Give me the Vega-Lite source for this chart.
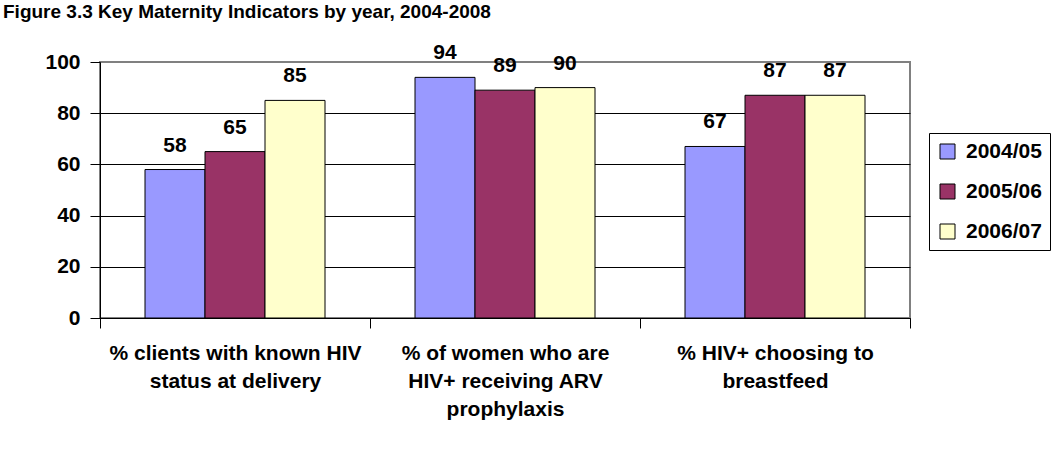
{
  "$schema": "https://vega.github.io/schema/vega-lite/v6.json",
  "width": 810,
  "height": 256,
  "autosize": {"type": "none"},
  "padding": {"left": 100, "top": 62, "right": 144, "bottom": 149},
  "background": "white",
  "title": {
    "text": "Figure 3.3 Key Maternity Indicators by year, 2004-2008",
    "anchor": "start",
    "frame": "group",
    "font": "Liberation Sans",
    "fontSize": 19,
    "fontWeight": "bold",
    "color": "black",
    "baseline": "alphabetic",
    "offset": -30,
    "dx": -97,
    "dy": -35
  },
  "data": {
    "values": [
      {"indicator": "% clients with known HIV|status at delivery", "year": "2004/05", "value": 58},
      {"indicator": "% clients with known HIV|status at delivery", "year": "2005/06", "value": 65},
      {"indicator": "% clients with known HIV|status at delivery", "year": "2006/07", "value": 85},
      {"indicator": "% of women who are|HIV+ receiving ARV|prophylaxis", "year": "2004/05", "value": 94},
      {"indicator": "% of women who are|HIV+ receiving ARV|prophylaxis", "year": "2005/06", "value": 89},
      {"indicator": "% of women who are|HIV+ receiving ARV|prophylaxis", "year": "2006/07", "value": 90},
      {"indicator": "% HIV+ choosing to|breastfeed", "year": "2004/05", "value": 67},
      {"indicator": "% HIV+ choosing to|breastfeed", "year": "2005/06", "value": 87},
      {"indicator": "% HIV+ choosing to|breastfeed", "year": "2006/07", "value": 87}
    ]
  },
  "encoding": {
    "x": {
      "field": "indicator",
      "type": "nominal",
      "sort": null,
      "scale": {"paddingInner": 0, "paddingOuter": 0},
      "axis": {
        "title": null,
        "labelAngle": 0,
        "labelExpr": "split(datum.label, '|')",
        "labelFont": "Liberation Sans",
        "labelFontSize": 21,
        "labelFontWeight": "bold",
        "labelColor": "black",
        "labelLineHeight": 28,
        "labelBaseline": "top",
        "labelPadding": 14,
        "labelLimit": 0,
        "tickBand": "extent",
        "tickSize": 10,
        "tickColor": "black",
        "tickWidth": 1,
        "domainColor": "black",
        "domainWidth": 1,
        "grid": false
      }
    },
    "xOffset": {
      "field": "year",
      "type": "nominal",
      "scale": {"paddingInner": 0, "paddingOuter": 0.75}
    },
    "y": {
      "field": "value",
      "type": "quantitative",
      "scale": {"domain": [0, 100], "nice": false},
      "axis": {
        "title": null,
        "values": [0, 20, 40, 60, 80, 100],
        "labelFont": "Liberation Sans",
        "labelFontSize": 21,
        "labelFontWeight": "bold",
        "labelColor": "black",
        "labelPadding": 10,
        "tickSize": 10,
        "tickColor": "black",
        "tickWidth": 1,
        "domainColor": "black",
        "domainWidth": 1,
        "grid": true,
        "gridColor": {"condition": {"test": "datum.value == 100", "value": "#808080"}, "value": "black"},
        "gridWidth": 1
      }
    }
  },
  "layer": [
    {
      "mark": {"type": "bar", "stroke": "black", "strokeWidth": 1},
      "encoding": {
        "color": {
          "field": "year",
          "type": "nominal",
          "scale": {"domain": ["2004/05", "2005/06", "2006/07"], "range": ["#9999FF", "#993366", "#FFFFCC"]},
          "legend": {
            "title": null,
            "orient": "none",
            "legendX": 829,
            "legendY": 71,
            "padding": 8,
            "rowPadding": 18,
            "symbolType": "square",
            "symbolSize": 225,
            "symbolStrokeColor": "black",
            "symbolStrokeWidth": 1,
            "symbolOpacity": 1,
            "labelFont": "Liberation Sans",
            "labelFontSize": 21,
            "labelFontWeight": "bold",
            "labelColor": "black",
            "labelOffset": 8,
            "strokeColor": "black",
            "fillColor": "white"
          }
        }
      }
    },
    {
      "mark": {
        "type": "text",
        "baseline": "alphabetic",
        "dy": -18,
        "font": "Liberation Sans",
        "fontSize": 21,
        "fontWeight": "bold",
        "color": "black"
      },
      "encoding": {
        "text": {"field": "value", "type": "quantitative"}
      }
    }
  ],
  "config": {
    "view": {"stroke": "#808080", "strokeWidth": 2}
  }
}
